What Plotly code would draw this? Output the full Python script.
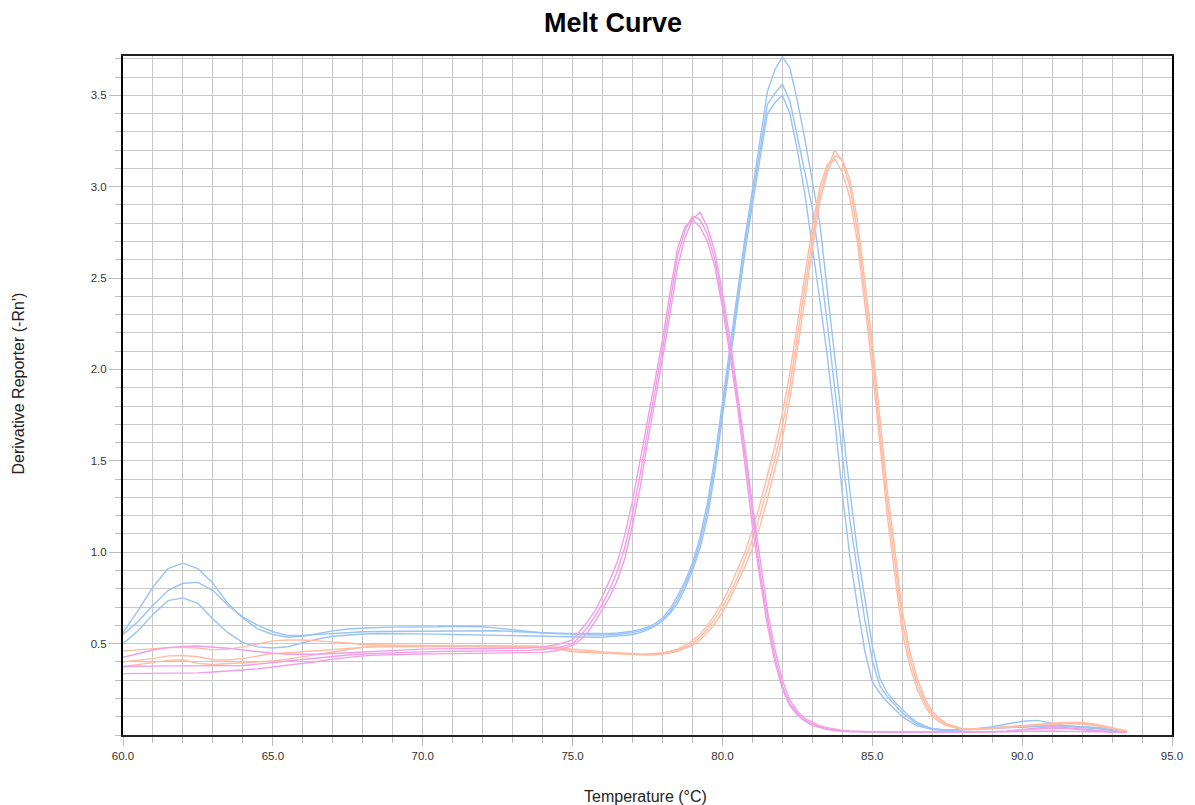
import plotly.graph_objects as go

# Temperature grid (deg C)
temps = [60.0, 60.5, 61.0, 61.5, 62.0, 62.5, 63.0, 63.5, 64.0, 64.5,
         65.0, 65.5, 66.0, 66.5, 67.0, 67.5, 68.0, 68.5, 69.0, 69.5,
         70.0, 70.5, 71.0, 71.5, 72.0, 72.5, 73.0, 73.5, 74.0, 74.5,
         75.0, 75.25, 75.5, 75.75, 76.0, 76.25, 76.5, 76.75, 77.0, 77.25,
         77.5, 77.75, 78.0, 78.25, 78.5, 78.75, 79.0, 79.25, 79.5, 79.75,
         80.0, 80.25, 80.5, 80.75, 81.0, 81.25, 81.5, 81.75, 82.0, 82.25,
         82.5, 82.75, 83.0, 83.25, 83.5, 83.75, 84.0, 84.25, 84.5, 84.75,
         85.0, 85.25, 85.5, 85.75, 86.0, 86.25, 86.5, 86.75, 87.0, 87.25,
         87.5, 88.0, 88.5, 89.0, 89.5, 90.0, 90.5, 91.0, 91.5, 92.0,
         92.5, 93.0, 93.5]

# Blue replicates
blue_1 = [0.56, 0.68, 0.81, 0.91, 0.94, 0.91, 0.83, 0.72, 0.64, 0.58, 0.55, 0.535, 0.54, 0.555, 0.57,
          0.58, 0.585, 0.588, 0.59, 0.59, 0.59, 0.592, 0.595, 0.595, 0.592, 0.585, 0.575, 0.565, 0.558, 0.555,
          0.555, 0.553, 0.552, 0.552, 0.553, 0.555, 0.558, 0.562, 0.568, 0.578, 0.59, 0.61, 0.64, 0.69, 0.76,
          0.84, 0.94, 1.08, 1.27, 1.52, 1.82, 2.12, 2.42, 2.72, 2.98, 3.24, 3.52, 3.64, 3.71, 3.65,
          3.47, 3.26, 3.04, 2.80, 2.43, 2.06, 1.70, 1.34, 1.01, 0.74, 0.49, 0.31, 0.23, 0.18, 0.14,
          0.10, 0.07, 0.05, 0.035, 0.03, 0.027,
          0.03, 0.035, 0.045, 0.06, 0.075, 0.08, 0.065, 0.05, 0.04, 0.035, 0.025, 0.02]
blue_2 = [0.55, 0.62, 0.71, 0.79, 0.83, 0.835, 0.79, 0.71, 0.645, 0.60, 0.565, 0.545, 0.545, 0.55, 0.557,
          0.562, 0.565, 0.566, 0.567, 0.567, 0.567, 0.568, 0.57, 0.572, 0.572, 0.57, 0.566, 0.562, 0.558, 0.555,
          0.552, 0.55, 0.548, 0.547, 0.547, 0.548, 0.55, 0.555, 0.56, 0.57, 0.582, 0.60, 0.63, 0.675, 0.74,
          0.82, 0.92, 1.05, 1.23, 1.48, 1.78, 2.08, 2.38, 2.68, 2.94, 3.20, 3.45, 3.51, 3.56, 3.47,
          3.28, 3.08, 2.88, 2.58, 2.25, 1.90, 1.54, 1.18, 0.90, 0.63, 0.41, 0.27, 0.21, 0.165, 0.12,
          0.09, 0.06, 0.045, 0.035, 0.03, 0.028,
          0.03, 0.035, 0.04, 0.045, 0.05, 0.055, 0.055, 0.05, 0.045, 0.04, 0.03, 0.02]
blue_3 = [0.50, 0.57, 0.66, 0.735, 0.75, 0.72, 0.635, 0.56, 0.505, 0.482, 0.476, 0.483, 0.505, 0.525, 0.54,
          0.548, 0.553, 0.555, 0.555, 0.555, 0.553, 0.552, 0.55, 0.548, 0.546, 0.545, 0.544, 0.543, 0.542, 0.54,
          0.538, 0.536, 0.535, 0.535, 0.535, 0.537, 0.54, 0.545, 0.55, 0.56, 0.575, 0.595, 0.625, 0.665, 0.72,
          0.80, 0.90, 1.02, 1.19, 1.44, 1.74, 2.04, 2.34, 2.64, 2.90, 3.15, 3.40, 3.46, 3.50, 3.40,
          3.20, 2.96, 2.68, 2.38, 2.07, 1.72, 1.32, 0.98, 0.71, 0.46, 0.29, 0.23, 0.18, 0.14, 0.10,
          0.075, 0.05, 0.04, 0.03, 0.027, 0.025,
          0.028, 0.032, 0.036, 0.04, 0.045, 0.05, 0.05, 0.048, 0.045, 0.04, 0.03, 0.02]

# Pink replicates
pink_1 = [0.425, 0.445, 0.465, 0.478, 0.485, 0.487, 0.483, 0.475, 0.465, 0.455, 0.447, 0.442, 0.44, 0.442, 0.446,
          0.45, 0.455, 0.46, 0.464, 0.467, 0.47, 0.471, 0.472, 0.472, 0.472, 0.472, 0.473, 0.476, 0.482, 0.495,
          0.52, 0.57, 0.62, 0.68, 0.76, 0.85, 0.95, 1.10, 1.28, 1.50, 1.72, 1.94, 2.16, 2.42, 2.66,
          2.78, 2.82, 2.78, 2.70, 2.56, 2.34, 2.08, 1.80, 1.48, 1.14, 0.86, 0.60, 0.40, 0.25, 0.16,
          0.11, 0.075, 0.053, 0.04, 0.03, 0.025, 0.02, 0.018, 0.017, 0.016, 0.015, 0.015, 0.015, 0.015, 0.015,
          0.015, 0.015, 0.015, 0.015, 0.015, 0.015,
          0.015, 0.015, 0.016, 0.018, 0.02, 0.022, 0.022, 0.02, 0.018, 0.016, 0.015, 0.015]
pink_2 = [0.375, 0.377, 0.378, 0.378, 0.378, 0.378, 0.378, 0.379, 0.38, 0.388, 0.398, 0.405, 0.413, 0.422, 0.432,
          0.438, 0.443, 0.447, 0.45, 0.453, 0.455, 0.457, 0.458, 0.459, 0.46, 0.46, 0.461, 0.463, 0.468, 0.478,
          0.50, 0.54, 0.59, 0.65, 0.72, 0.80, 0.90, 1.03, 1.21, 1.42, 1.66, 1.88, 2.11, 2.36, 2.62,
          2.76, 2.84, 2.82, 2.74, 2.60, 2.38, 2.12, 1.84, 1.53, 1.20, 0.90, 0.64, 0.43, 0.27, 0.17,
          0.12, 0.08, 0.06, 0.045, 0.035, 0.028, 0.022, 0.02, 0.018, 0.017, 0.016, 0.016, 0.016, 0.016, 0.016,
          0.016, 0.016, 0.016, 0.016, 0.016, 0.016,
          0.016, 0.016, 0.017, 0.02, 0.028, 0.035, 0.038, 0.035, 0.028, 0.02, 0.016, 0.015]
pink_3 = [0.336, 0.336, 0.336, 0.336, 0.337, 0.34, 0.345, 0.35, 0.356, 0.362, 0.372, 0.382, 0.39, 0.402, 0.415,
          0.425, 0.433, 0.437, 0.44, 0.442, 0.443, 0.444, 0.445, 0.446, 0.446, 0.446, 0.446, 0.448, 0.452, 0.462,
          0.49, 0.52, 0.56, 0.62, 0.69, 0.76, 0.85, 0.97, 1.15, 1.35, 1.60, 1.82, 2.06, 2.30, 2.56,
          2.72, 2.82, 2.86, 2.78, 2.64, 2.42, 2.17, 1.88, 1.58, 1.26, 0.96, 0.68, 0.47, 0.30, 0.19,
          0.13, 0.09, 0.068, 0.05, 0.04, 0.032, 0.025, 0.022, 0.02, 0.018, 0.017, 0.017, 0.017, 0.017, 0.017,
          0.017, 0.017, 0.017, 0.017, 0.017, 0.017,
          0.017, 0.017, 0.018, 0.022, 0.03, 0.04, 0.045, 0.04, 0.032, 0.022, 0.018, 0.016]

# Orange replicates
orange_1 = [0.46, 0.465, 0.472, 0.478, 0.478, 0.476, 0.466, 0.47, 0.482, 0.50, 0.515, 0.52, 0.52, 0.515, 0.51,
            0.503, 0.495, 0.492, 0.49, 0.49, 0.49, 0.49, 0.49, 0.49, 0.49, 0.489, 0.488, 0.487, 0.485, 0.48,
            0.47, 0.468, 0.465, 0.46, 0.455, 0.452, 0.45, 0.447, 0.445, 0.443, 0.443, 0.445, 0.45, 0.458, 0.47,
            0.49, 0.515, 0.55, 0.60, 0.66, 0.73, 0.81, 0.90, 1.00, 1.12, 1.26, 1.42, 1.58, 1.76, 1.98,
            2.25, 2.52, 2.78, 3.00, 3.12, 3.15, 3.08, 2.94, 2.70, 2.36, 2.00, 1.60, 1.20, 0.88, 0.56,
            0.38, 0.25, 0.16, 0.10, 0.07, 0.05,
            0.03, 0.03, 0.035, 0.042, 0.05, 0.058, 0.062, 0.066, 0.066, 0.055, 0.035, 0.02]
orange_2 = [0.40, 0.41, 0.418, 0.433, 0.435, 0.428, 0.412, 0.41, 0.418, 0.432, 0.445, 0.45, 0.456, 0.463, 0.47,
            0.476, 0.482, 0.485, 0.487, 0.488, 0.488, 0.488, 0.488, 0.488, 0.488, 0.487, 0.486, 0.484, 0.48, 0.475,
            0.46, 0.458, 0.455, 0.452, 0.45, 0.447, 0.445, 0.443, 0.441, 0.44, 0.44, 0.442, 0.446, 0.453, 0.464,
            0.48, 0.50, 0.535, 0.58, 0.635, 0.70, 0.775, 0.86, 0.96, 1.07, 1.20, 1.35, 1.51, 1.69, 1.91,
            2.18, 2.45, 2.72, 2.96, 3.10, 3.20, 3.14, 3.00, 2.76, 2.42, 2.08, 1.66, 1.27, 0.95, 0.62,
            0.42, 0.28, 0.18, 0.115, 0.08, 0.055,
            0.032, 0.032, 0.036, 0.044, 0.052, 0.058, 0.065, 0.068, 0.068, 0.058, 0.04, 0.022]
orange_3 = [0.373, 0.385, 0.40, 0.408, 0.412, 0.392, 0.386, 0.39, 0.395, 0.40, 0.405, 0.415, 0.428, 0.44, 0.455,
            0.47, 0.48, 0.483, 0.484, 0.484, 0.484, 0.484, 0.484, 0.484, 0.484, 0.483, 0.482, 0.48, 0.476, 0.47,
            0.455, 0.453, 0.45, 0.448, 0.446, 0.444, 0.442, 0.44, 0.438, 0.437, 0.437, 0.439, 0.442, 0.448, 0.458,
            0.472, 0.49, 0.52, 0.56, 0.61, 0.67, 0.745, 0.83, 0.92, 1.02, 1.14, 1.29, 1.45, 1.62, 1.84,
            2.10, 2.38, 2.66, 2.92, 3.08, 3.17, 3.15, 3.04, 2.82, 2.50, 2.15, 1.74, 1.34, 1.02, 0.68,
            0.46, 0.31, 0.20, 0.13, 0.09, 0.06,
            0.035, 0.034, 0.038, 0.046, 0.05, 0.055, 0.06, 0.062, 0.06, 0.05, 0.035, 0.02]

x_tick_vals = [60, 65, 70, 75, 80, 85, 90, 95]
y_tick_vals = [0.5, 1.0, 1.5, 2.0, 2.5, 3.0, 3.5]

BLUE = "#99c3f5"
PINK = "#f19ee8"
ORANGE = "#ffbca3"

series = [
    (blue_1, BLUE), (blue_2, BLUE), (blue_3, BLUE),
    (orange_1, ORANGE), (orange_2, ORANGE), (orange_3, ORANGE),
    (pink_1, PINK), (pink_2, PINK), (pink_3, PINK),
]

fig = go.Figure()
for vals, col in series:
    assert len(vals) == len(temps)
    fig.add_trace(go.Scatter(x=temps, y=vals, mode="lines",
                             line=dict(color=col, width=1.4),
                             showlegend=False, hoverinfo="skip"))

FONT = "Liberation Sans, Arial, sans-serif"
GRID = "#c8c8c8"

fig.update_layout(
    width=1195, height=805,
    margin=dict(l=123, r=18, t=56, b=70),
    paper_bgcolor="white", plot_bgcolor="white",
    font=dict(family=FONT, size=11, color="#333333"),
    title=dict(text="<b>Melt Curve</b>", x=613/1195, xanchor="center",
               y=1-23/805, yanchor="middle", yref="container",
               font=dict(family=FONT, size=27, color="#000000")),
    showlegend=False,
)

fig.update_xaxes(
    range=[60, 95], tickmode="array", tickvals=x_tick_vals,
    tickformat=".1f", ticks="outside", ticklen=9, tickcolor="#bbbbbb", tickwidth=1,
    showgrid=True, gridcolor=GRID, gridwidth=1,
    minor=dict(tickmode="linear", tick0=60, dtick=1, showgrid=True, gridcolor=GRID, gridwidth=1,
               ticks="outside", ticklen=6, tickcolor="#bbbbbb"),
    showline=True, linecolor="#222222", linewidth=2, mirror=True,
    zeroline=False, tickfont=dict(size=11.5, color="#333333"),
)
fig.update_yaxes(
    range=[0, 3.715], tickmode="array", tickvals=y_tick_vals,
    tickformat=".1f", ticks="outside", ticklen=12, tickcolor="#bbbbbb", tickwidth=1,
    showgrid=True, gridcolor=GRID, gridwidth=1,
    minor=dict(tickmode="linear", tick0=0, dtick=0.1, showgrid=True, gridcolor=GRID, gridwidth=1,
               ticks="outside", ticklen=6, tickcolor="#bbbbbb"),
    showline=True, linecolor="#000000", linewidth=2, mirror=True,
    zeroline=False, tickfont=dict(size=11.5, color="#333333"),
)

fig.add_annotation(text="Temperature (°C)", xref="paper", yref="paper",
                   x=(648-123)/1054, y=-62/679, xanchor="center", yanchor="middle",
                   showarrow=False, font=dict(family=FONT, size=16, color="#222222"))
fig.add_annotation(text="Derivative Reporter (-Rn')", xref="paper", yref="paper",
                   x=(19-123)/1054, y=(735-383)/679, xanchor="center", yanchor="middle",
                   textangle=-90, showarrow=False,
                   font=dict(family=FONT, size=16, color="#222222"))

fig.write_html("out.html")
